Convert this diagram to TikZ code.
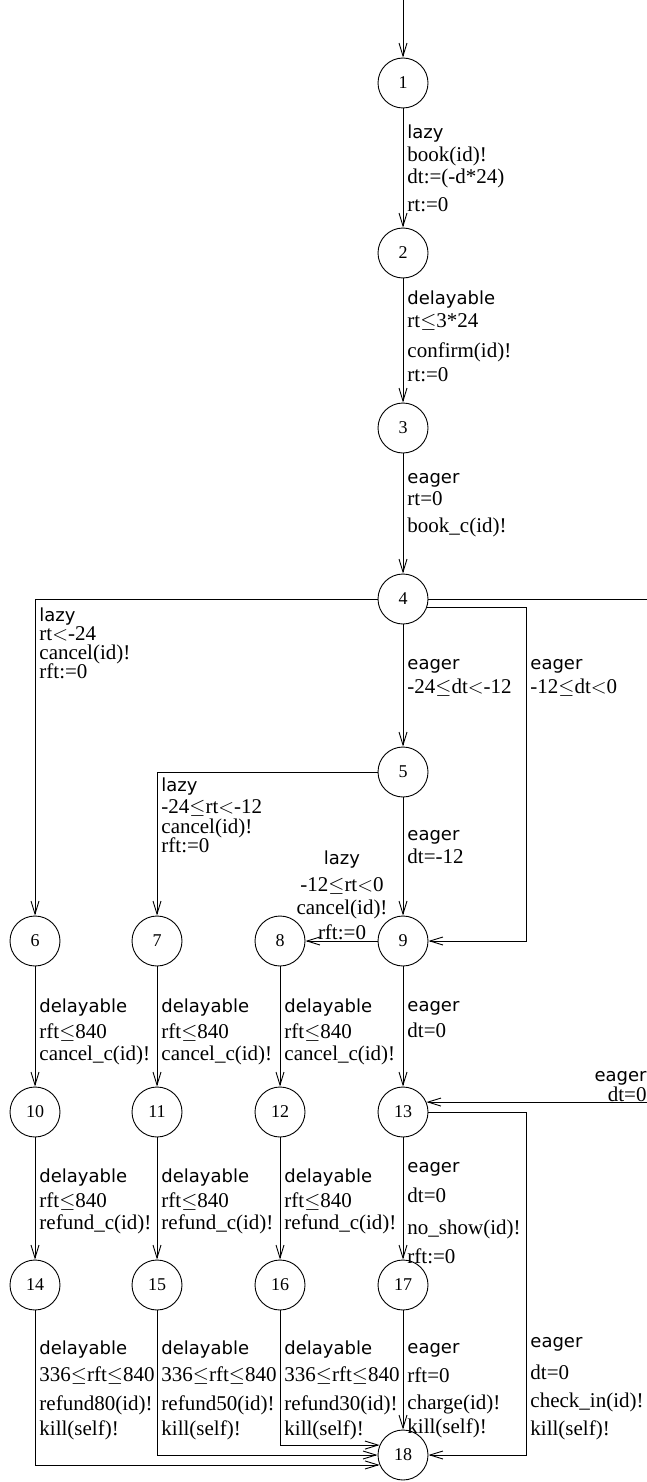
\documentclass[tikz,border=0pt]{standalone}
\usepackage{fontspec}
\usepackage{tikz}
\usetikzlibrary{arrows.meta}
\setmainfont{Liberation Serif}
\newfontfamily\kwfamily{DejaVu Sans}
\newcommand\kw[1]{{\kwfamily\fontsize{18}{20}\selectfont\rule{0pt}{13.5pt}#1}}

\tikzset{
  state/.style={draw, circle, minimum size=50pt, inner sep=0pt, font=\fontsize{18}{20}\selectfont},
  lbl/.style={anchor=north west, align=left, inner sep=0pt, font=\fontsize{21}{20}\selectfont},
  trans/.style={-{Straight Barb[length=13pt,width=8pt]}},
}

\begin{document}
\begin{tikzpicture}[x=1pt, y=-1pt, line width=0.9pt]
    \useasboundingbox (0,0) rectangle (647,1482);
    \coordinate (start) at (403,0);
    \coordinate (redge) at (647,0);
    \coordinate (rside) at (526,0);

    % main chain
    \node[state] (s1) at (403,83) {1};
    \node[state] (s2) at (403,253) {2};
    \node[state] (s3) at (403,428) {3};
    \node[state] (s4) at (403,599) {4};
    \node[state] (s5) at (403,772) {5};

    % rows of four
    \node[state] (s6) at (35,941) {6};
    \node[state] (s7) at (157,941) {7};
    \node[state] (s8) at (280,941) {8};
    \node[state] (s9) at (403,941) {9};
    \node[state] (s10) at (35,1112) {10};
    \node[state] (s11) at (157,1112) {11};
    \node[state] (s12) at (280,1112) {12};
    \node[state] (s13) at (403,1112) {13};
    \node[state] (s14) at (35,1285) {14};
    \node[state] (s15) at (157,1285) {15};
    \node[state] (s16) at (280,1285) {16};
    \node[state] (s17) at (403,1285) {17};
    \node[state] (s18) at (403,1455) {18};

    % transitions
    \draw[trans] (start) -- (s1);
    \draw[trans] (s1) -- (s2);
    \draw[trans] (s2) -- (s3);
    \draw[trans] (s3) -- (s4);
    \draw[trans] (s4) -| (s6);
    \draw (s4) -- (s4 -| redge);
    \draw[trans] (s4) -- (s5);
    \draw[trans] (s4.-20) -| (rside |- s9) -- (s9);
    \draw[trans] (s5) -| (s7);
    \draw[trans] (s5) -- (s9);
    \draw[trans] (s9) -- (s8);
    \foreach \a/\b in {6/10,7/11,8/12,9/13,10/14,11/15,12/16,13/17,17/18}
        \draw[trans] (s\a) -- (s\b);
    \coordinate (rin) at (s13.23 -| redge);
    \draw[trans] (rin) -- (s13.23);
    \draw[trans] (s13) -| (rside |- s18) -- (s18);
    \draw[trans] (s14) |- (s18.203);
    \draw[trans] (s15) |- (s18);
    \draw[trans] (s16) |- (s18.157);

    % labels
    \node[lbl] (l12) at (407,124.5) {\kw{lazy}\\[3pt]book(id)!\\[2pt]dt:=(-d*24)\\[8pt]rt:=0};
    \node[lbl] (l23) at (407,290.5) {\kw{delayable}\\[3pt]rt$\leq$3*24\\[10pt]confirm(id)!\\[4pt]rt:=0};
    \node[lbl] (l34) at (407,469.5) {\kw{eager}\\[2pt]rt=0\\[7pt]book\_c(id)!};
    \node[lbl] (l46) at (39,607.5) {\kw{lazy}\\[-1pt]rt$<$-24\\[-1pt]cancel(id)!\\[-1pt]rft:=0};
    \node[lbl] (l45) at (407,655.5) {\kw{eager}\\[4pt]-24$\leq$dt$<$-12};
    \node[lbl] (l49) at (530,655.5) {\kw{eager}\\[4pt]-12$\leq$dt$<$0};
    \node[lbl] (l57) at (161,777.5) {\kw{lazy}\\[2pt]-24$\leq$rt$<$-12\\cancel(id)!\\[-1pt]rft:=0};
    \node[lbl] (l59) at (407,826.5) {\kw{eager}\\[3pt]dt=-12};
    \node[lbl, anchor=north, align=center] (l98) at (342,850.5)
        {\kw{lazy}\\[7pt]-12$\leq$rt$<$0\\[3pt]cancel(id)!\\[5pt]rft:=0};

    \node[lbl] (l610) at (39,998.5) {\kw{delayable}\\[6pt]rft$\leq$840\\[2pt]cancel\_c(id)!};
    \node[lbl] (l711) at (161,998.5) {\kw{delayable}\\[6pt]rft$\leq$840\\[2pt]cancel\_c(id)!};
    \node[lbl] (l812) at (284,998.5) {\kw{delayable}\\[6pt]rft$\leq$840\\[2pt]cancel\_c(id)!};
    \node[lbl] (l913) at (407,997.5) {\kw{eager}\\[6pt]dt=0};
    \node[lbl, anchor=north east, align=right] (lin) at (647,1067.5) {\kw{eager}\\dt=0};

    \node[lbl] (l1014) at (39,1168.5) {\kw{delayable}\\[5pt]rft$\leq$840\\[2pt]refund\_c(id)!};
    \node[lbl] (l1115) at (161,1168.5) {\kw{delayable}\\[5pt]rft$\leq$840\\[2pt]refund\_c(id)!};
    \node[lbl] (l1216) at (284,1168.5) {\kw{delayable}\\[5pt]rft$\leq$840\\[2pt]refund\_c(id)!};
    \node[lbl] (l1317) at (407,1158.5) {\kw{eager}\\[10pt]dt=0\\[12pt]no\_show(id)!\\[9pt]rft:=0};

    \node[lbl] (l1418) at (39,1340.5) {\kw{delayable}\\[7pt]336$\leq$rft$\leq$840\\[9pt]refund80(id)!\\[5pt]kill(self)!};
    \node[lbl] (l1518) at (161,1340.5) {\kw{delayable}\\[7pt]336$\leq$rft$\leq$840\\[9pt]refund50(id)!\\[5pt]kill(self)!};
    \node[lbl] (l1618) at (284,1340.5) {\kw{delayable}\\[7pt]336$\leq$rft$\leq$840\\[9pt]refund30(id)!\\[5pt]kill(self)!};
    \node[lbl] (l1718) at (407,1339.5) {\kw{eager}\\[9pt]rft=0\\[7pt]charge(id)!\\[4pt]kill(self)!};
    \node[lbl] (l1318) at (530,1333.5) {\kw{eager}\\[12pt]dt=0\\[8pt]check\_in(id)!\\[8pt]kill(self)!};
\end{tikzpicture}
\end{document}
